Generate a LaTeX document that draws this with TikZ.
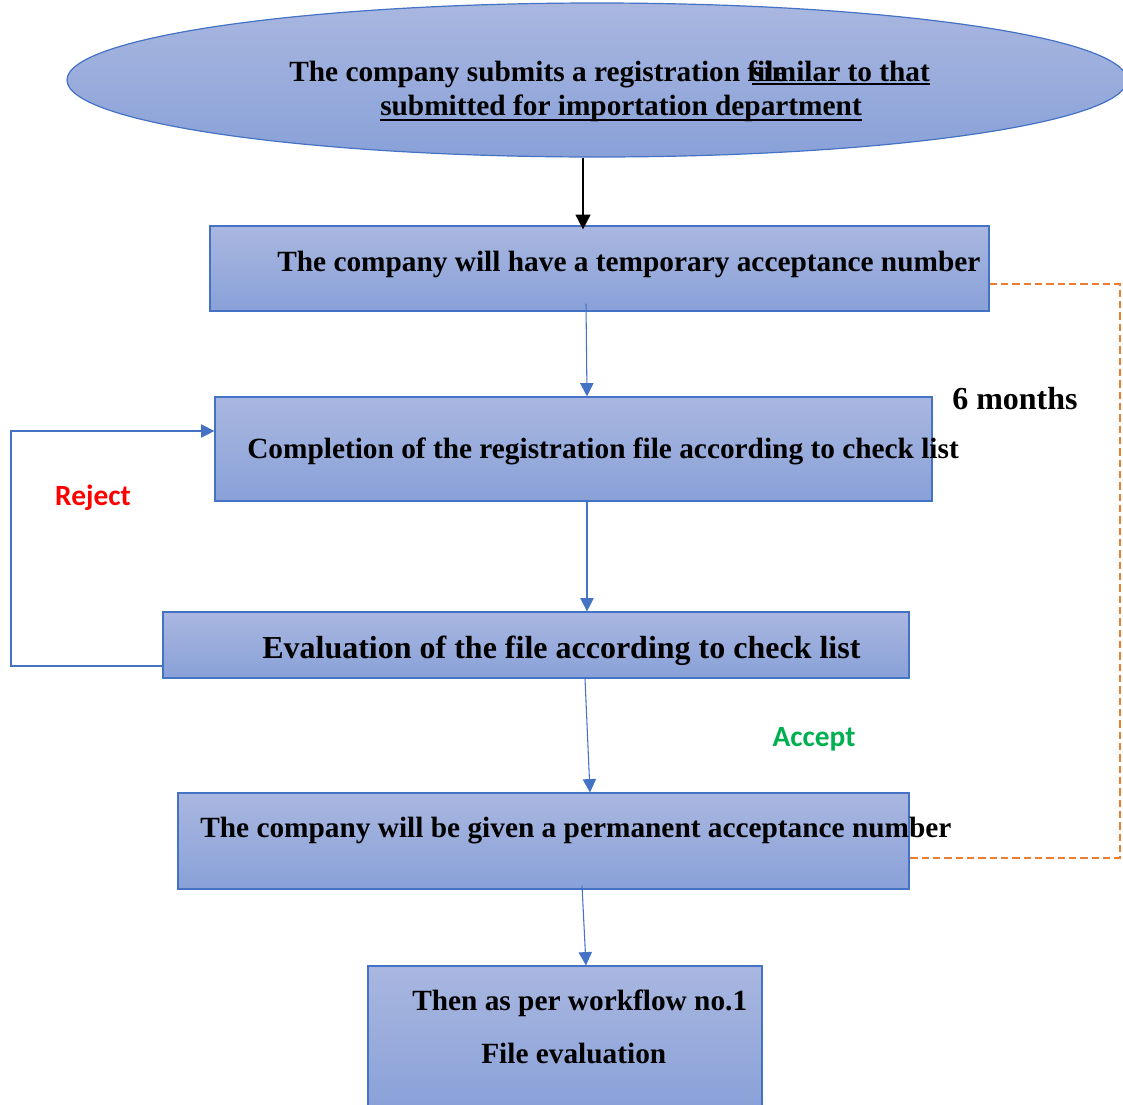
\documentclass[tikz,border=0pt]{standalone}
\usepackage{fontspec}
\setmainfont{Liberation Serif}
\newfontfamily\calib{Carlito}
\usetikzlibrary{shapes.geometric,arrows.meta}
\definecolor{gtop}{RGB}{169,183,224}
\definecolor{gbot}{RGB}{137,161,216}
\definecolor{bline}{RGB}{68,114,196}
\definecolor{orng}{RGB}{237,125,49}
\definecolor{rejred}{RGB}{255,0,0}
\definecolor{accgreen}{RGB}{0,176,80}
\tikzset{
  boxstyle/.style={draw=bline, line width=0.9pt, top color=gtop, bottom color=gbot, inner sep=0pt},
  txt/.style={inner sep=0pt, anchor=base west, font=\bfseries\fontsize{22}{26}\selectfont},
  bigtxt/.style={inner sep=0pt, anchor=base west, font=\bfseries\fontsize{24}{28}\selectfont},
  bluearrow/.style={draw=bline, line width=0.8pt, -{Triangle[length=10pt,width=10pt]}},
  blackarrow/.style={draw=black, line width=1.4pt, -{Triangle[length=11pt,width=11pt]}},
  labelsans/.style={inner sep=0pt, font=\calib\bfseries\fontsize{22}{26}\selectfont},
}
\begin{document}
\begin{tikzpicture}[x=0.75pt,y=-0.75pt]
\useasboundingbox (0,0) rectangle (1123,1104);
% shapes
\node[boxstyle, ellipse, minimum width=795pt, minimum height=115.5pt] (e) at (597,80) {};
\node[boxstyle, minimum width=584.25pt, minimum height=63.75pt] (b1) at (599.5,268.5) {};
\node[boxstyle, minimum width=537.75pt, minimum height=78pt] (b2) at (573.5,449) {};
\node[boxstyle, minimum width=559.5pt, minimum height=49.5pt] (b3) at (536,645) {};
\node[boxstyle, minimum width=548.25pt, minimum height=72pt] (b4) at (543.5,841) {};
\node[boxstyle, minimum width=295.5pt, minimum height=108pt] (b5) at (565,1038) {};
% texts
\node[txt] (e1) at (289,81) {The company submits a registration file};
\node[txt] (e2) at (752,81) {similar to that};
\node[txt] (e3) at (380,115) {submitted for importation department};
\draw[line width=1.5pt] ([yshift=-2.5pt]e2.base west) -- ([yshift=-2.5pt]e2.base east);
\draw[line width=1.5pt] ([yshift=-4pt]e3.base west) -- ([yshift=-4pt]e3.base east);
\node[txt] (t1) at (277,271) {The company will have a temporary acceptance number};
\node[txt] (t2) at (247,458) {Completion of the registration file according to check list};
\node[bigtxt] (t3) at (262,658) {Evaluation of the file according to check list};
\node[txt] (t4) at (200,837) {The company will be given a permanent acceptance number};
\node[txt] (t5) at (412,1010) {Then as per workflow no.1};
\node[txt] (t6) at (481,1063) {File evaluation};
\node[bigtxt] (m6) at (952,409) {6 months};
\node[labelsans, text=rejred] (rej) at (93,498) {Reject};
\node[labelsans, text=accgreen] (acc) at (814,739) {Accept};
% connectors
\draw[blackarrow] ([xshift=-10.5pt]e.south) -- ([xshift=-12.375pt,yshift=-3pt]b1.north);
\draw[bluearrow] ([xshift=-10.125pt,yshift=6pt]b1.south) -- ([xshift=10.125pt]b2.north);
\draw[bluearrow] ([xshift=10.125pt]b2.south) -- ([xshift=38.25pt]b3.north);
\draw[bluearrow] ([xshift=36.75pt]b3.south) -- ([xshift=34.875pt]b4.north);
\draw[bluearrow] ([xshift=28.875pt,yshift=3pt]b4.south) -- ([xshift=15.75pt]b5.north);
\coordinate (rl) at (11,431);
\draw[bluearrow] ([yshift=-15.75pt]b3.west) -| (rl) -- (b2.west |- rl);
\coordinate (d1) at (1120,284);
\coordinate (d2) at (1120,858);
\draw[draw=orng, line width=1.6pt, dash pattern=on 5.5pt off 3pt] ([yshift=-11.625pt]b1.east) -- (d1) -- (d2) -- (b4.east |- d2);
\end{tikzpicture}
\end{document}
